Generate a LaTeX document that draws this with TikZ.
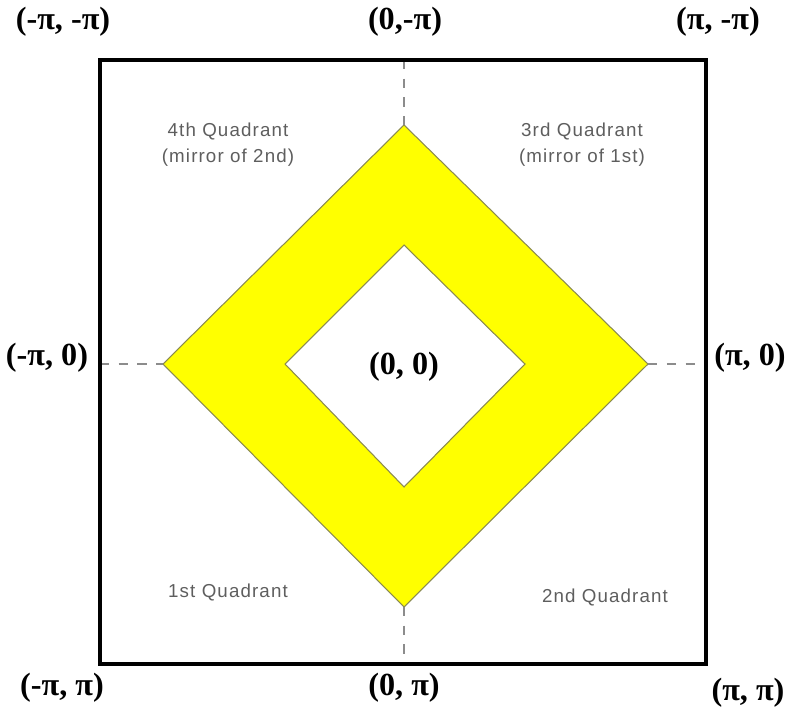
\documentclass[tikz,border=0pt]{standalone}
\usepackage{fontspec}
\setmainfont{Liberation Serif}
\newfontfamily\quadfont[LetterSpace=6]{Liberation Sans}
\usetikzlibrary{calc}
\definecolor{ringyellow}{HTML}{FFFF00}
\definecolor{ringedge}{HTML}{8A8A50}
\definecolor{quadgray}{HTML}{5E5E5E}
\definecolor{axisgray}{HTML}{8C8C8C}

\begin{document}
\begin{tikzpicture}[x=0.03cm,y=-0.03cm,
  pilabel/.style={font=\fontsize{27.5}{30}\selectfont\bfseries,inner sep=0pt},
  quadlabel/.style={font=\quadfont\fontsize{16}{22}\selectfont,text=quadgray,align=center,inner sep=0pt},
  axisline/.style={axisgray,line width=1.4pt,dash pattern=on 8pt off 8pt}]
\useasboundingbox (0,0) rectangle (790,713);
% frame and ring
\coordinate (tl) at (100,60);\coordinate (br) at (706,664);
\coordinate (ot) at (404,125);\coordinate (ol) at (163,364);\coordinate (or) at (648,364);\coordinate (ob) at (404,607);
\coordinate (it) at (404,245);\coordinate (il) at (285,364);\coordinate (ir) at (525,364);\coordinate (ib) at (404,487);
\coordinate (ft) at (404,60);\coordinate (fb) at (404,664);\coordinate (fl) at (100,364);\coordinate (fr) at (706,364);
\draw[fill=ringyellow,draw=ringedge,line width=0.9pt,even odd rule] (ot)--(or)--(ob)--(ol)--cycle (it)--(ir)--(ib)--(il)--cycle;
\draw[axisline] (ft)--(ot);\draw[axisline] (ob)--(fb);\draw[axisline] (fl)--(ol);\draw[axisline] (or)--(fr);
\draw[line width=3.4pt] (tl) rectangle (br);
% corner and edge labels
\node[pilabel] (mm) at (63,22){(-π, -π)};\node[pilabel] (zm) at (405,22){(0,-π)};\node[pilabel] (pm) at (718,22){(π, -π)};
\node[pilabel] (mz) at (47,358){(-π, 0)};\node[pilabel] (zz) at (404,367){(0, 0)};\node[pilabel] (pz) at (750,358){(π, 0)};
\node[pilabel] (mp) at (62,688){(-π, π)};\node[pilabel] (zp) at (404,688){(0, π)};\node[pilabel] (pp) at (748,693){(π, π)};
% quadrants
\node[quadlabel] (q4) at (228,145){4th Quadrant\\(mirror of 2nd)};
\node[quadlabel] (q3) at (582,145){3rd Quadrant\\(mirror of 1st)};
\node[quadlabel] (q1) at (228,592){1st Quadrant};
\node[quadlabel] (q2) at (605,597){2nd Quadrant};
\end{tikzpicture}
\end{document}
